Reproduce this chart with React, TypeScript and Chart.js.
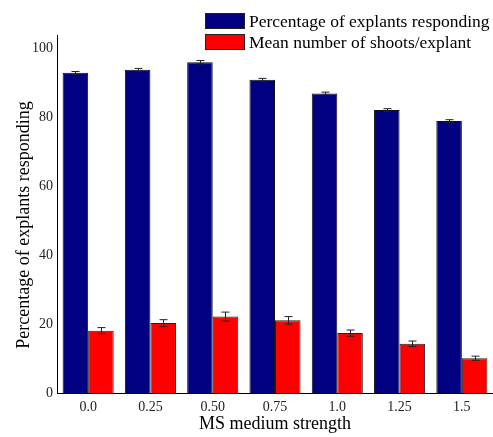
import React, { useEffect, useRef } from "react";
import { Chart, registerables } from "chart.js";

Chart.register(...registerables);

const categories = ["0.0", "0.25", "0.50", "0.75", "1.0", "1.25", "1.5"];
const seriesLabels = ["Percentage of explants responding", "Mean number of shoots/explant"];
const percentResponding = [93.0, 93.9, 96.1, 91.0, 87.0, 82.2, 79.0];
const percentErr = [0.4, 0.4, 0.5, 0.4, 0.4, 0.4, 0.4];
const meanShoots = [18.1, 20.3, 22.2, 21.1, 17.4, 14.3, 10.1];
const shootsErr = [0.9, 1.0, 1.3, 1.1, 0.9, 0.8, 0.6];
const yTicks = [0, 20, 40, 60, 80, 100];
const xTitle = "MS medium strength";
const yTitle = "Percentage of explants responding";

const SERIF = "'Liberation Serif', 'Times New Roman', serif";

const errorsPlugin = {
  id: "errorBars",
  afterDatasetsDraw(chart: any) {
    const ctx = chart.ctx;
    const yScale = chart.scales.y;
    const errs = [percentErr, shootsErr];
    chart.data.datasets.forEach((ds: any, i: number) => {
      const meta = chart.getDatasetMeta(i);
      meta.data.forEach((el: any, j: number) => {
        const v = ds.data[j];
        const e = errs[i][j];
        const x = Math.round(el.x) + 0.5;
        const yTop = yScale.getPixelForValue(v + e);
        const yBot = yScale.getPixelForValue(v - e);
        ctx.save();
        ctx.strokeStyle = "#222";
        ctx.lineWidth = 1;
        ctx.beginPath();
        ctx.moveTo(x, yTop);
        ctx.lineTo(x, yBot);
        ctx.moveTo(x - 4, yTop);
        ctx.lineTo(x + 4, yTop);
        ctx.moveTo(x - 4, yBot);
        ctx.lineTo(x + 4, yBot);
        ctx.stroke();
        ctx.restore();
      });
    });
  },
};

const legendPlugin = {
  id: "customLegend",
  afterDraw(chart: any) {
    const ctx = chart.ctx;
    ctx.save();
    chart.data.datasets.forEach((ds: any, i: number) => {
      const bx = 205;
      const by = 13 + i * 21;
      ctx.fillStyle = ds.backgroundColor;
      ctx.fillRect(bx, by, 40, 16);
      ctx.strokeStyle = "#222";
      ctx.lineWidth = 1;
      ctx.strokeRect(bx + 0.5, by + 0.5, 39, 15);
      ctx.fillStyle = "#000";
      ctx.font = `17.5px ${SERIF}`;
      ctx.textBaseline = "middle";
      ctx.textAlign = "left";
      ctx.fillText(ds.label, 249, by + 9);
    });
    // y-axis title
    const area = chart.chartArea;
    ctx.translate(24, (area.top + area.bottom) / 2 + 11);
    ctx.rotate(-Math.PI / 2);
    ctx.textAlign = "center";
    ctx.textBaseline = "middle";
    ctx.fillStyle = "#000";
    ctx.font = `18px ${SERIF}`;
    ctx.fillText(yTitle, 0, 0);
    ctx.restore();
  },
};

export default function App() {
  const ref = useRef<HTMLCanvasElement>(null);
  useEffect(() => {
    const chart = new Chart(ref.current as HTMLCanvasElement, {
      type: "bar",
      data: {
        labels: categories,
        datasets: [
          {
            label: seriesLabels[0],
            data: percentResponding,
            backgroundColor: "#000080",
            borderColor: "#111",
            borderWidth: 1,
            categoryPercentage: 0.82,
            barPercentage: 1.0,
          },
          {
            label: seriesLabels[1],
            data: meanShoots,
            backgroundColor: "#ff0000",
            borderColor: "#222",
            borderWidth: 1,
            categoryPercentage: 0.82,
            barPercentage: 1.0,
          },
        ],
      },
      options: {
        responsive: false,
        animation: false,
        layout: { padding: { top: 35, right: 0, left: 0, bottom: 0 } },
        plugins: {
          legend: { display: false },
          tooltip: { enabled: false },
          title: { display: false },
        },
        scales: {
          x: {
            type: "category",
            grid: { display: false, drawTicks: false },
            border: { display: true, color: "#000", width: 1 },
            ticks: { color: "#222", font: { family: SERIF, size: 14 }, padding: 6 },
            title: {
              display: true,
              text: xTitle,
              color: "#000",
              font: { family: SERIF, size: 18 },
              padding: { top: 0, bottom: 2 },
            },
            afterFit: (s: any) => {
              s.height = 44;
            },
          },
          y: {
            min: 0,
            max: 104,
            grid: { display: false, drawTicks: false },
            border: { display: true, color: "#000", width: 1 },
            ticks: {
              stepSize: 20,
              color: "#222",
              font: { family: SERIF, size: 14 },
              padding: 4,
            },
            afterBuildTicks: (s: any) => {
              s.ticks = yTicks.map((v) => ({ value: v }));
            },
            afterFit: (s: any) => {
              s.width = 57;
            },
          },
        },
      },
      plugins: [errorsPlugin, legendPlugin],
    });
    return () => chart.destroy();
  }, []);
  return (
    <div style={{ position: "fixed", left: 0, top: 0, width: 493, height: 437, background: "#fff" }}>
      <canvas ref={ref} width={493} height={437} />
    </div>
  );
}
